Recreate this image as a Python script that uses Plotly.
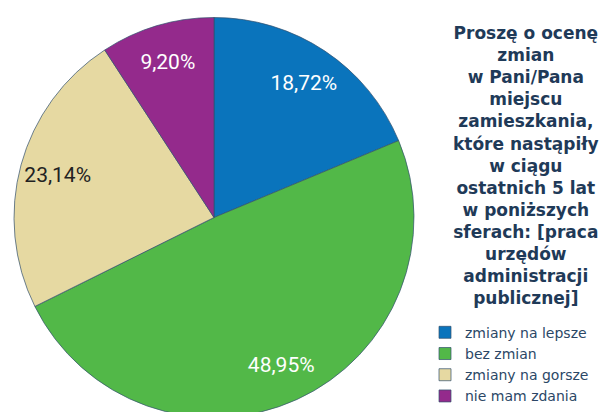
import plotly.graph_objects as go

# Dane
categories = ["zmiany na lepsze", "bez zmian", "zmiany na gorsze", "nie mam zdania"]
values = [18.72, 48.95, 23.14, 9.20]
colors = ["#0a74bc", "#52b848", "#e6d9a2", "#942a8c"]
text_colors = ["white", "white", "#222222", "white"]
legend_title = ("Proszę o ocenę<br>zmian<br>w Pani/Pana<br>miejscu<br>zamieszkania,<br>"
                "które nastąpiły<br>w ciągu<br>ostatnich 5 lat<br>w poniższych<br>"
                "sferach: [praca<br>urzędów<br>administracji<br>publicznej]")

W, H = 609, 412
pie_dom = dict(x=[6/W, 406/W], y=[0, 1])

fig = go.Figure()
# wycinki
fig.add_trace(go.Pie(
    labels=categories, values=values, sort=False, direction="clockwise", rotation=0,
    marker=dict(colors=colors, line=dict(color="rgba(50,80,110,0.7)", width=1)),
    textinfo="none", domain=pie_dom, hoverinfo="label+value",
))
# etykiety procentowe (przezroczysty pierścień, żeby tekst był dalej od środka)
fig.add_trace(go.Pie(
    labels=categories, values=values, sort=False, direction="clockwise", rotation=0,
    hole=0.62, showlegend=False, hoverinfo="skip",
    marker=dict(colors=["rgba(0,0,0,0)"] * 4, line=dict(width=0)),
    texttemplate="%{value:.2f}%", textposition="inside", insidetextorientation="horizontal",
    textfont=dict(family="Roboto, sans-serif", size=21, color=text_colors),
    domain=pie_dom,
))

fig.add_annotation(
    text=legend_title, x=518/W, y=1 + (7 - 13)/405, xref="paper", yref="paper",
    showarrow=False, align="center", xanchor="center", yanchor="top",
    font=dict(family="DejaVu Sans, Arial", size=17, color="#1f3a58", weight="bold"),
)

fig.update_layout(
    width=W, height=H, margin=dict(l=0, r=0, t=7, b=0),
    paper_bgcolor="white", plot_bgcolor="white", separators=",.",
    showlegend=True,
    legend=dict(x=417/W, y=0.255, xanchor="left", yanchor="top",
                font=dict(family="DejaVu Sans, Arial", size=14, color="#2b4766"),
                itemwidth=30, tracegroupgap=0, bgcolor="rgba(0,0,0,0)"),
)

fig.write_html("out.html")
